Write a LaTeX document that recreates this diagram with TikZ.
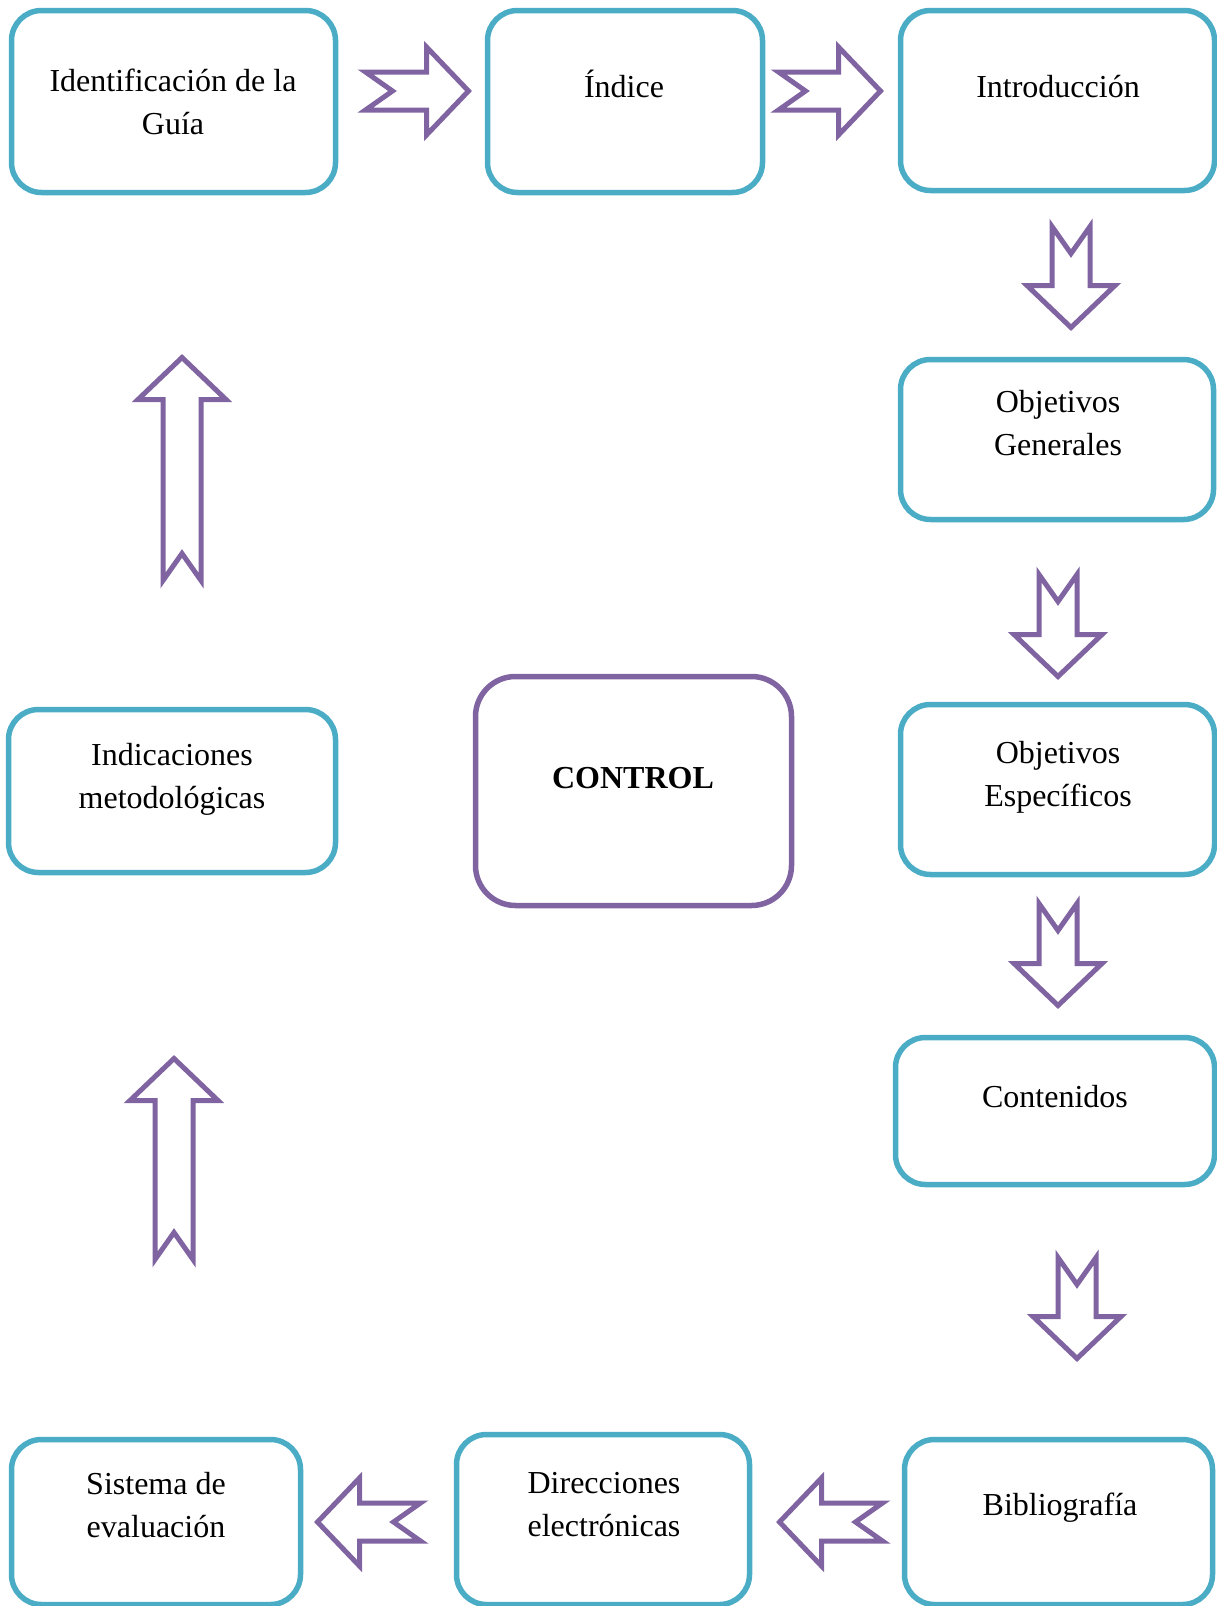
\documentclass[tikz,border=0pt]{standalone}
\usepackage{fontspec}
\setmainfont{Liberation Serif}
\definecolor{boxblue}{HTML}{4BACC6}
\definecolor{arrpurple}{HTML}{8064A2}
\newcommand\twolines[2]{\begin{tabular}[t]{@{}c@{}}#1\\#2\end{tabular}}
\tikzset{
  stagebox/.style={draw=boxblue, line width=5.5pt, rounded corners=30pt, inner sep=0pt},
  ctrlbox/.style={draw=arrpurple, line width=5.5pt, rounded corners=40pt, inner sep=0pt},
  lbl/.style={anchor=base, inner sep=0pt, font=\fontsize{32}{43}\selectfont},
  blockarrow/.style={draw=arrpurple, line width=5pt, fill=white, line join=miter},
}
\newcommand\blockarr[4]{%
  \draw[blockarrow, shift={(#1,#2)}, rotate=#3]
    (0,19) -- (#4-42,19) -- (#4-42,44) -- (#4,0) -- (#4-42,-44) -- (#4-42,-19)
    -- (0,-19) -- (27,0) -- cycle;}
\begin{document}
\begin{tikzpicture}[x=1pt, y=-1pt]
\useasboundingbox (0,0) rectangle (1217,1606);

% boxes
\node[stagebox, minimum width=324pt, minimum height=182pt] (guia) at (173.5,101.5) {};
\node[stagebox, minimum width=275pt, minimum height=182pt] (indice) at (625,101.5) {};
\node[stagebox, minimum width=314pt, minimum height=180pt] (intro) at (1057.5,100.5) {};
\node[stagebox, minimum width=313pt, minimum height=160pt] (objgen) at (1057,439.5) {};
\node[stagebox, minimum width=314pt, minimum height=170pt] (objesp) at (1057.5,789.5) {};
\node[stagebox, minimum width=319pt, minimum height=147pt] (cont) at (1055,1111) {};
\node[stagebox, minimum width=308pt, minimum height=165pt] (biblio) at (1058.5,1522) {};
\node[stagebox, minimum width=293pt, minimum height=170pt] (dir) at (603,1519.5) {};
\node[stagebox, minimum width=289pt, minimum height=165pt] (sist) at (156,1522) {};
\node[stagebox, minimum width=327pt, minimum height=163pt] (indic) at (172,791) {};
\node[ctrlbox, minimum width=316pt, minimum height=229pt] (ctrl) at (633.5,791) {};

% labels
\node[lbl] (tguia) at (173,91) {\twolines{Identificación de la}{Guía}};
\node[lbl] (tindice) at (624,97) {Índice};
\node[lbl] (tintro) at (1058,97) {Introducción};
\node[lbl] (tobjgen) at (1058,412) {\twolines{Objetivos}{Generales}};
\node[lbl] (tobjesp) at (1058,763) {\twolines{Objetivos}{Específicos}};
\node[lbl] (tcont) at (1055,1107) {Contenidos};
\node[lbl] (tbiblio) at (1060,1515) {Bibliografía};
\node[lbl] (tdir) at (604,1493) {\twolines{Direcciones}{electrónicas}};
\node[lbl] (tsist) at (156,1494) {\twolines{Sistema de}{evaluación}};
\node[lbl] (tindic) at (172,765) {\twolines{Indicaciones}{metodológicas}};
\node[lbl] (tctrl) at (633,788) {\textbf{CONTROL}};

% block arrows
\blockarr{365.5}{91}{0}{103}
\blockarr{778.5}{91}{0}{102}
\blockarr{1071}{226.5}{-90}{101}
\blockarr{1058}{574.5}{-90}{102}
\blockarr{1058}{903.5}{-90}{102}
\blockarr{1077}{1257.5}{-90}{101}
\blockarr{420.5}{1522}{180}{103}
\blockarr{882.5}{1522}{180}{103}
\blockarr{182}{580.5}{90}{223}
\blockarr{174}{1259.5}{90}{201}
\end{tikzpicture}
\end{document}
